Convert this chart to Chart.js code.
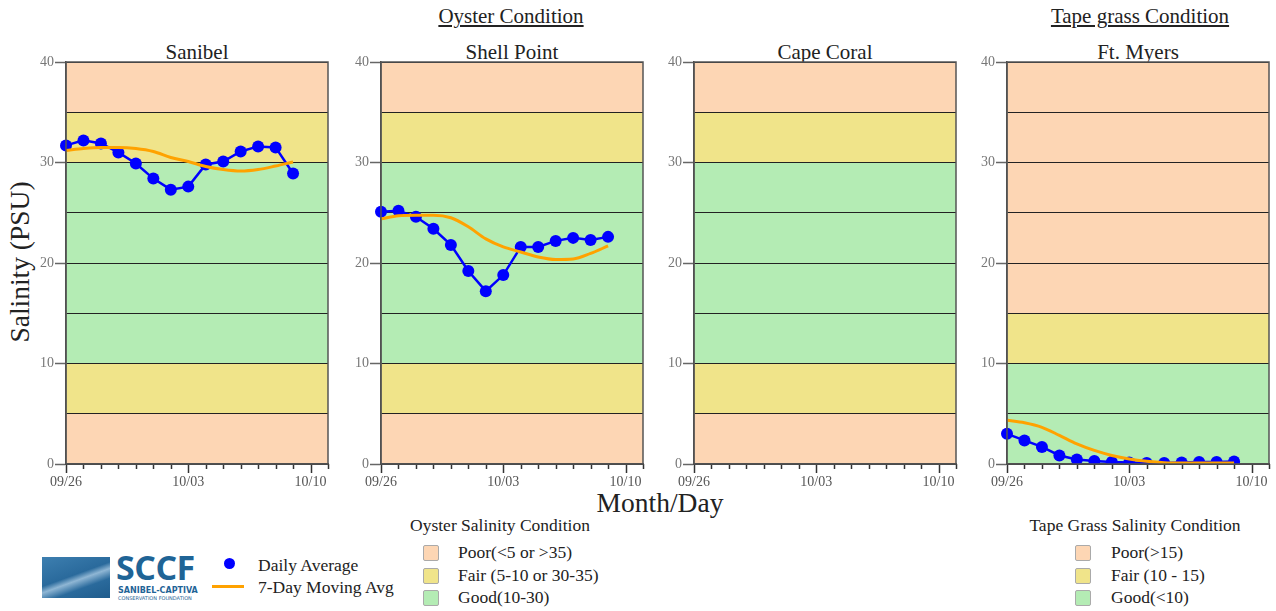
<!DOCTYPE html>
<html lang="en">
<head>
    <meta charset="UTF-8">
    <title>Salinity Conditions</title>
    <style>
        body {
            margin: 0;
            background: #fff;
            font-family: 'Liberation Serif', 'Times New Roman', serif;
            color: #222;
        }
        .page {
            position: relative;
            width: 1276px;
            height: 611px;
            overflow: hidden;
        }
        .page canvas, .lbl {
            position: absolute;
        }
        .lbl { white-space: nowrap; line-height: 1.15; }
        .group {
            font-size: 21px;
            text-decoration: underline;
            transform: translateX(-50%);
            top: 4px;
        }
        .site {
            font-size: 21px;
            transform: translateX(-50%);
            top: 40px;
        }
        .axis-x {
            font-size: 27.5px;
            left: 660px;
            top: 487px;
            transform: translateX(-50%);
        }
        .axis-y {
            font-size: 27.5px;
            left: 20px;
            top: 262px;
            transform: translate(-50%, -50%) rotate(-90deg);
        }
        .leg-title { font-size: 17.5px; transform: translateX(-50%); }
        .leg-item { font-size: 17.5px; }
        .swatch {
            position: absolute;
            width: 14px;
            height: 14px;
            border: 1px solid #aaa;
            border-radius: 2px;
        }
        .logo-img {
            position: absolute;
            left: 42px; top: 557px;
            width: 68px; height: 41px;
            background: linear-gradient(160deg, #3d7fb0 0%, #2a6a9c 45%, #8fb6d4 55%, #2a6a9c 70%, #1f5c8c 100%);
        }
        .logo-text {
            position: absolute;
            left: 116px; top: 550px;
            line-height: 34px;
            font-family: 'Open Sans', 'DejaVu Sans', sans-serif;
            font-weight: bold;
            font-size: 34px;
            color: #1f6496;
            letter-spacing: -0.5px;
        }
        .logo-sub {
            position: absolute;
            font-family: 'DejaVu Sans', sans-serif;
            font-weight: bold;
            color: #1f6496;
        }
    </style>
</head>
<body>
<div class="page" id="page">
    <div class="lbl group" style="left:511px">Oyster Condition</div>
    <div class="lbl group" style="left:1140px">Tape grass Condition</div>

    <div class="lbl axis-y">Salinity (PSU)</div>
    <div class="lbl axis-x">Month/Day</div>

    <!-- logo -->
    <div class="logo-img"></div>
    <div class="logo-text">SCCF</div>
    <div class="logo-sub" style="left:118px; top:586px; font-size:8px;">SANIBEL-CAPTIVA</div>
    <div class="logo-sub" style="left:118px; top:595px; font-size:5px; font-weight:normal;">CONSERVATION FOUNDATION</div>

    <!-- series legend -->
    <div style="position:absolute; left:224px; top:558px; width:11px; height:11px; border-radius:50%; background:#0000ff;"></div>
    <div class="lbl leg-item" style="left:258px; top:555px;">Daily Average</div>
    <div style="position:absolute; left:212px; top:585px; width:32px; height:3px; background:#ffa200;"></div>
    <div class="lbl leg-item" style="left:258px; top:577px;">7-Day Moving Avg</div>

    <!-- oyster legend -->
    <div class="lbl leg-title" style="left:500px; top:515px;">Oyster Salinity Condition</div>
    <div class="swatch" style="left:423px; top:545px; background:#fdd6b4;"></div>
    <div class="lbl leg-item" style="left:458px; top:542px;">Poor(&lt;5 or &gt;35)</div>
    <div class="swatch" style="left:423px; top:568px; background:#f0e48a;"></div>
    <div class="lbl leg-item" style="left:458px; top:565px;">Fair (5-10 or 30-35)</div>
    <div class="swatch" style="left:423px; top:590px; background:#b4ecb4;"></div>
    <div class="lbl leg-item" style="left:458px; top:587px;">Good(10-30)</div>

    <!-- tape grass legend -->
    <div class="lbl leg-title" style="left:1135px; top:515px;">Tape Grass Salinity Condition</div>
    <div class="swatch" style="left:1075px; top:545px; background:#fdd6b4;"></div>
    <div class="lbl leg-item" style="left:1111px; top:542px;">Poor(&gt;15)</div>
    <div class="swatch" style="left:1075px; top:568px; background:#f0e48a;"></div>
    <div class="lbl leg-item" style="left:1111px; top:565px;">Fair (10 - 15)</div>
    <div class="swatch" style="left:1075px; top:590px; background:#b4ecb4;"></div>
    <div class="lbl leg-item" style="left:1111px; top:587px;">Good(&lt;10)</div>
</div>

<script src="https://cdn.jsdelivr.net/npm/chart.js"></script>
<script>
// ---- data ----
const days = ['09/26', '09/27', '09/28', '09/29', '09/30', '10/01', '10/02', '10/03',
              '10/04', '10/05', '10/06', '10/07', '10/08', '10/09', '10/10', '10/11'];
const labelDays = ['09/26', '10/03', '10/10'];
const yTicks = [0, 10, 20, 30, 40];

const sites = ['Sanibel', 'Shell Point', 'Cape Coral', 'Ft. Myers'];

const sanibelDaily = [31.7, 32.2, 31.9, 31.0, 29.9, 28.4, 27.3, 27.6, 29.8, 30.1, 31.1, 31.6, 31.5, 28.9];
const sanibelMA    = [31.2, 31.4, 31.5, 31.5, 31.4, 31.1, 30.5, 30.1, 29.6, 29.3, 29.15, 29.3, 29.65, 30.05];

const shellDaily = [25.1, 25.2, 24.6, 23.4, 21.8, 19.2, 17.2, 18.8, 21.6, 21.6, 22.2, 22.5, 22.3, 22.6];
const shellMA    = [24.4, 24.7, 24.75, 24.75, 24.5, 23.6, 22.4, 21.6, 21.1, 20.6, 20.35, 20.4, 20.95, 21.7];

const capeDaily = [];
const capeMA = [];

const ftMyersDaily = [3.0, 2.35, 1.7, 0.85, 0.45, 0.3, 0.2, 0.15, 0.1, 0.1, 0.15, 0.2, 0.2, 0.25];
const ftMyersMA    = [4.35, 4.1, 3.65, 2.85, 2.0, 1.35, 0.85, 0.5, 0.27, 0.13, 0.1, 0.1, 0.1, 0.1];

// condition bands [from, to, class]
const oysterBands = [[0, 5, 'poor'], [5, 10, 'fair'], [10, 30, 'good'], [30, 35, 'fair'], [35, 40, 'poor']];
const tapeBands = [[0, 10, 'good'], [10, 15, 'fair'], [15, 40, 'poor']];

// ---- styling ----
const bandColors = { poor: '#fdd6b4', fair: '#f0e48a', good: '#b4ecb4' };
const plotLefts = [66, 381, 694, 1007];
const plotW = 262, plotH = 402, plotTop = 62;
const yAxisW = 45, xAxisH = 28, padTop = 10, padRight = 10;

Chart.defaults.font.family = "'Liberation Serif', 'Times New Roman', serif";

const bandPlugin = {
    id: 'bands',
    beforeDraw(chart, args, opts) {
        const { ctx, chartArea: a, scales: { y } } = chart;
        ctx.save();
        opts.bands.forEach(b => {
            const top = y.getPixelForValue(b[1]);
            const bot = y.getPixelForValue(b[0]);
            ctx.fillStyle = bandColors[b[2]];
            ctx.fillRect(a.left, top, a.right - a.left, bot - top);
        });
        ctx.restore();
    },
    afterDraw(chart) {
        const { ctx, chartArea: a, scales: { x } } = chart;
        ctx.save();
        // day ticks below the x axis, longer where a date is labelled
        ctx.strokeStyle = '#333';
        ctx.lineWidth = 1.5;
        x.ticks.forEach((t, i) => {
            const px = Math.round(x.getPixelForTick(i)) + 0.5;
            const len = labelDays.includes(days[t.value]) ? 9 : 5;
            ctx.beginPath();
            ctx.moveTo(px, a.bottom);
            ctx.lineTo(px, a.bottom + len);
            ctx.stroke();
        });
        ctx.strokeStyle = '#555';
        ctx.strokeRect(a.left, a.top, a.right - a.left, a.bottom - a.top);
        ctx.restore();
    }
};

function makePanel(i, daily, ma, bands) {
    const page = document.getElementById('page');
    const title = document.createElement('div');
    title.className = 'lbl site';
    title.style.left = (plotLefts[i] + plotW / 2) + 'px';
    title.textContent = sites[i];
    page.appendChild(title);

    const cv = document.createElement('canvas');
    cv.width = yAxisW + plotW + padRight;
    cv.height = padTop + plotH + xAxisH;
    cv.style.left = (plotLefts[i] - yAxisW) + 'px';
    cv.style.top = (plotTop - padTop) + 'px';
    page.appendChild(cv);

    new Chart(cv.getContext('2d'), {
        type: 'line',
        data: {
            labels: days,
            datasets: [
                {
                    label: '7-Day Moving Avg',
                    data: ma,
                    borderColor: '#ffa200',
                    borderWidth: 3,
                    pointRadius: 0,
                    tension: 0.4,
                    cubicInterpolationMode: 'monotone'
                },
                {
                    label: 'Daily Average',
                    data: daily,
                    borderColor: '#0000ff',
                    backgroundColor: '#0000ff',
                    borderWidth: 2.5,
                    pointRadius: 6,
                    pointBorderWidth: 0,
                    tension: 0
                }
            ]
        },
        options: {
            responsive: false,
            animation: false,
            devicePixelRatio: 1,
            layout: { padding: { top: padTop, right: padRight, left: 0, bottom: 0 } },
            plugins: {
                legend: { display: false },
                tooltip: { enabled: false },
                bands: { bands: bands }
            },
            scales: {
                x: {
                    offset: false,
                    afterFit: s => { s.height = xAxisH; },
                    grid: {
                        drawOnChartArea: false,
                        drawTicks: false
                    },
                    border: { color: '#444', width: 1.5 },
                    ticks: {
                        autoSkip: false,
                        maxRotation: 0,
                        padding: 10,
                        color: '#555',
                        font: { size: 14 },
                        callback: function (v) {
                            const l = this.getLabelForValue(v);
                            return labelDays.includes(l) ? l : '';
                        }
                    }
                },
                y: {
                    min: 0,
                    max: 40,
                    afterFit: s => { s.width = yAxisW; },
                    grid: {
                        color: '#222',
                        lineWidth: 1,
                        tickLength: 11,
                        tickWidth: 1.5,
                        tickColor: c => yTicks.includes(c.tick.value) ? '#666' : 'rgba(0,0,0,0)'
                    },
                    border: { color: '#444', width: 1.5 },
                    ticks: {
                        stepSize: 5,
                        padding: 1,
                        color: '#777',
                        font: { size: 14 },
                        callback: v => yTicks.includes(v) ? v : ''
                    }
                }
            }
        },
        plugins: [bandPlugin]
    });
}

makePanel(0, sanibelDaily, sanibelMA, oysterBands);
makePanel(1, shellDaily, shellMA, oysterBands);
makePanel(2, capeDaily, capeMA, oysterBands);
makePanel(3, ftMyersDaily, ftMyersMA, tapeBands);
</script>
</body>
</html>
